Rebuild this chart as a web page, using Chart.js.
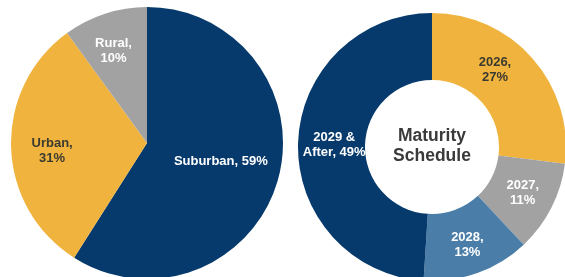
<!DOCTYPE html>
<html lang="en">
<head>
    <meta charset="UTF-8">
    <title>Property Mix and Maturity Schedule</title>
    <script src="https://cdn.jsdelivr.net/npm/chart.js"></script>
    <style>
        html, body { margin: 0; padding: 0; background: #fff; }
        body { width: 565px; height: 277px; overflow: hidden; position: relative; }
        .box { position: absolute; }
        #pieBox { left: 10.5px; top: 7px; width: 272px; height: 272px; }
        #donutBox { left: 298px; top: 12.5px; width: 268px; height: 268px; }
    </style>
</head>
<body>
    <div class="box" id="pieBox"><canvas id="pieChart"></canvas></div>
    <div class="box" id="donutBox"><canvas id="donutChart"></canvas></div>

    <script>
        // property location mix
        const locationNames = ['Suburban', 'Urban', 'Rural'];
        const locationShares = [59, 31, 10];

        // debt maturity schedule
        const maturityYears = ['2026', '2027', '2028', '2029 &\nAfter'];
        const maturityShares = [27, 11, 13, 49];

        const NAVY = '#06396c';
        const GOLD = '#efb33e';
        const GREY = '#a2a2a2';
        const STEEL = '#4a7da7';

        // label style per slice: where the text sits along the slice and its colour
        function sliceLabels(opts) {
            return {
                id: 'sliceLabels',
                afterDatasetsDraw(chart) {
                    const ctx = chart.ctx;
                    const meta = chart.getDatasetMeta(0);
                    const values = chart.data.datasets[0].data;
                    ctx.save();
                    ctx.font = 'bold 13px "Liberation Sans", Arial, sans-serif';
                    ctx.textAlign = 'center';
                    ctx.textBaseline = 'middle';
                    meta.data.forEach((arc, i) => {
                        const name = chart.data.labels[i];
                        const sep = opts.wrap[i] ? '\n' : ' ';
                        const lines = (name + ',' + sep + values[i] + '%').split('\n');
                        const mid = (arc.startAngle + arc.endAngle) / 2 + (opts.nudge[i] || 0) * Math.PI / 180;
                        const r = arc.outerRadius * opts.radius[i];
                        const x = arc.x + Math.cos(mid) * r;
                        const y = arc.y + Math.sin(mid) * r;
                        ctx.fillStyle = opts.color[i];
                        const lh = 15;
                        lines.forEach((ln, k) => {
                            ctx.fillText(ln, x, y + (k - (lines.length - 1) / 2) * lh);
                        });
                    });
                    if (opts.center) {
                        const arc = meta.data[0];
                        ctx.font = 'bold 17.5px "Liberation Sans", Arial, sans-serif';
                        ctx.fillStyle = '#3a3a3a';
                        ctx.fillText(opts.center[0], arc.x, arc.y - 11);
                        ctx.fillText(opts.center[1], arc.x, arc.y + 9);
                    }
                    ctx.restore();
                }
            };
        }

        const common = {
            responsive: true,
            maintainAspectRatio: false,
            animation: false,
            layout: { padding: 0 },
            plugins: { legend: { display: false }, tooltip: { enabled: false } }
        };

        new Chart(document.getElementById('pieChart'), {
            type: 'pie',
            data: {
                labels: locationNames,
                datasets: [{
                    data: locationShares,
                    backgroundColor: [NAVY, GOLD, GREY],
                    borderWidth: 0,
                    hoverOffset: 0,
                    offset: 0
                }]
            },
            options: common,
            plugins: [sliceLabels({
                wrap: [false, true, true],
                radius: [0.56, 0.70, 0.72],
                nudge: [-2, -3, -2],
                color: ['#ffffff', '#3b3a30', '#ffffff']
            })]
        });

        new Chart(document.getElementById('donutChart'), {
            type: 'doughnut',
            data: {
                labels: maturityYears,
                datasets: [{
                    data: maturityShares,
                    backgroundColor: [GOLD, GREY, STEEL, NAVY],
                    borderWidth: 0,
                    hoverOffset: 0,
                    offset: 0
                }]
            },
            options: Object.assign({}, common, { cutout: '50%' }),
            plugins: [sliceLabels({
                wrap: [true, true, true, false],
                radius: [0.745, 0.76, 0.78, 0.73],
                nudge: [-9.5, 0, 0, -0.6],
                color: ['#3b3a30', '#ffffff', '#ffffff', '#ffffff'],
                center: ['Maturity', 'Schedule']
            })]
        });
    </script>
</body>
</html>
